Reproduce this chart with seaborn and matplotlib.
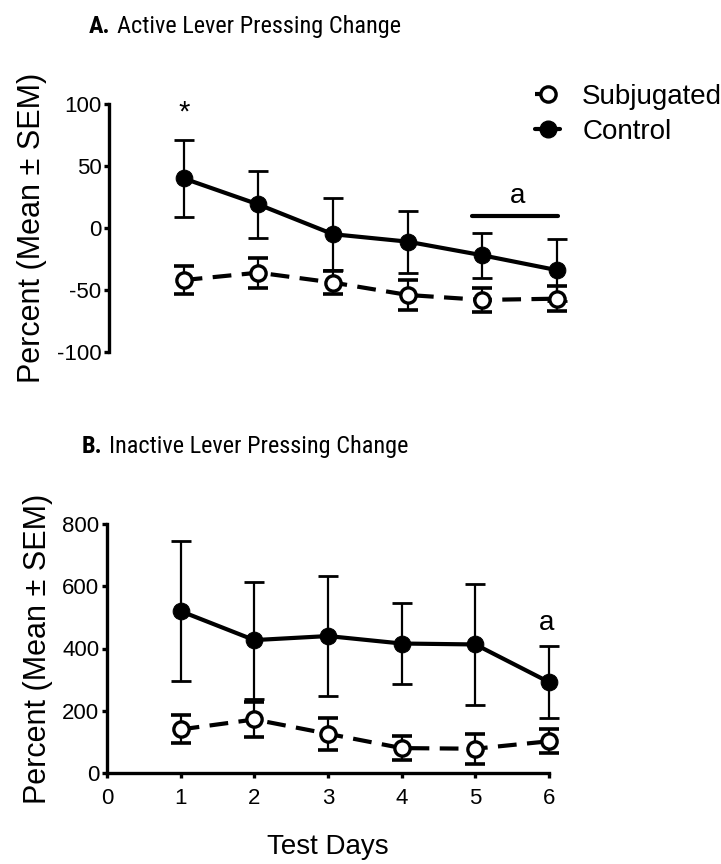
import numpy as np
import pandas as pd
import matplotlib
matplotlib.use("Agg")
import matplotlib.pyplot as plt
from matplotlib.lines import Line2D
from matplotlib import font_manager
import seaborn as sns

# ---------------- data ----------------
days = [1, 2, 3, 4, 5, 6]

active_control_mean = [40, 19, -5, -11, -22, -34]
active_control_sem = [31, 27, 29, 25, 18, 25]
active_subj_mean = [-42, -36, -44, -54, -58, -57]
active_subj_sem = [11, 12, 9, 12, 10, 10]

inactive_control_mean = [520, 427, 440, 416, 413, 292]
inactive_control_sem = [225, 188, 193, 130, 193, 116]
inactive_subj_mean = [140, 172, 126, 80, 78, 102]
inactive_subj_sem = [45, 56, 51, 39, 48, 38]

groups = ["Subjugated", "Control"]
active_yticks = [-100, -50, 0, 50, 100]
inactive_yticks = [0, 200, 400, 600, 800]
xticks = [0, 1, 2, 3, 4, 5, 6]

# ---------------- style ----------------
sns.set_theme(style="ticks")
plt.rcParams["font.family"] = ["Liberation Sans", "DejaVu Sans"]
plt.rcParams["axes.unicode_minus"] = False
plt.rcParams["text.color"] = "black"
plt.rcParams["axes.labelcolor"] = "black"
plt.rcParams["xtick.color"] = "black"
plt.rcParams["ytick.color"] = "black"
plt.rcParams["axes.edgecolor"] = "black"

_names = {f.name for f in font_manager.fontManager.ttflist}
narrow = "Liberation Sans"
for cand in ["Liberation Sans Narrow", "Arial Narrow", "Nimbus Sans Narrow",
             "Roboto Condensed", "PT Sans Narrow", "Archivo Narrow"]:
    if cand in _names:
        narrow = cand
        break
tfam = [narrow, "DejaVu Sans"]

fig = plt.figure(figsize=(7.21, 8.64), dpi=100)
W, H = 721.0, 864.0
axA = fig.add_axes([109 / W, 1 - 352 / H, 448 / W, 248 / H])
axB = fig.add_axes([107 / W, 1 - 773 / H, 442 / W, 249 / H])


def draw(ax, cm, cs, sm, ss):
    df = pd.DataFrame({"day": days, "cm": cm, "sm": sm})
    ax.errorbar(days, cm, yerr=cs, fmt="none", ecolor="black", elinewidth=1.6,
                capsize=7, capthick=2.0, clip_on=False, zorder=2)
    sns.lineplot(data=df, x="day", y="cm", ax=ax, color="black", lw=3,
                 marker="o", markersize=12, markerfacecolor="black",
                 markeredgecolor="black", clip_on=False, zorder=3)
    ax.errorbar(days, sm, yerr=ss, fmt="none", ecolor="black", elinewidth=1.6,
                capsize=7, capthick=2.6, clip_on=False, zorder=4)
    sns.lineplot(data=df, x="day", y="sm", ax=ax, color="black", lw=3,
                 linestyle=(0, (4.5, 2.5)), marker="o", markersize=11,
                 markerfacecolor="white", markeredgecolor="black",
                 markeredgewidth=2.4, clip_on=False, zorder=5)
    ax.set_xlim(0, 6)
    ax.set_xlabel("")
    ax.set_ylabel("Percent (Mean \u00b1 SEM)", fontsize=22, labelpad=7)
    for s in ["top", "right"]:
        ax.spines[s].set_visible(False)
    for s in ["left", "bottom"]:
        ax.spines[s].set_linewidth(2.4)
    ax.tick_params(axis="both", direction="out", length=3.5, width=2.4,
                   labelsize=16, pad=2, color="black", labelcolor="black")
    ax.set_facecolor("white")


draw(axA, active_control_mean, active_control_sem, active_subj_mean, active_subj_sem)
axA.set_ylim(-100, 100)
axA.set_yticks(active_yticks)
axA.spines["bottom"].set_visible(False)
axA.set_xticks([])

draw(axB, inactive_control_mean, inactive_control_sem, inactive_subj_mean, inactive_subj_sem)
axB.set_ylim(0, 800)
axB.set_yticks(inactive_yticks)
axB.set_xticks(xticks)
axB.tick_params(axis="x", pad=7.5)
axB.set_xlabel("Test Days", fontsize=20, labelpad=18)

# annotations
axA.text(1, 93, "*", ha="center", va="center", fontsize=21)
axA.plot([4.86, 6.01], [9.3, 9.3], color="black", lw=3, clip_on=False)
axA.text(5.47, 15, "a", ha="center", va="bottom", fontsize=20)
axB.text(5.97, 440, "a", ha="center", va="bottom", fontsize=20)

# titles
fig.text(89 / W, 1 - 33 / H, "A.", fontsize=17.5, fontweight="bold", family=tfam,
         ha="left", va="baseline")
fig.text(117 / W, 1 - 33 / H, "Active Lever Pressing Change", fontsize=17.5,
         family=tfam, ha="left", va="baseline")
fig.text(82 / W, 1 - 453 / H, "B.", fontsize=17.5, fontweight="bold", family=tfam,
         ha="left", va="baseline")
fig.text(109 / W, 1 - 453 / H, "Inactive Lever Pressing Change", fontsize=17.5,
         family=tfam, ha="left", va="baseline")

# legend
handles = [
    Line2D([], [], color="black", lw=3, linestyle=(0, (4.5, 2.5)), marker="o",
           markersize=11, markerfacecolor="white", markeredgecolor="black",
           markeredgewidth=2.4),
    Line2D([], [], color="black", lw=3, marker="o", markersize=12,
           markerfacecolor="black", markeredgecolor="black"),
]
fig.legend(handles, groups, loc="center left", bbox_to_anchor=(535 / W, 1 - 114.5 / H),
           frameon=False, fontsize=20, handlelength=0.9, handletextpad=0.8,
           labelspacing=0.31, borderpad=0, borderaxespad=0)

fig.savefig("out.png", dpi=100, facecolor="white")
